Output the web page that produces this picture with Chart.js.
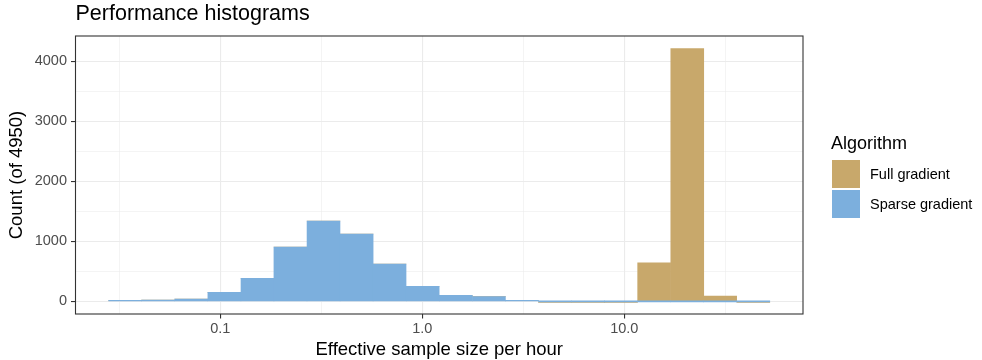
<!DOCTYPE html>
<html>
<head>
<meta charset="utf-8">
<script src="https://cdn.jsdelivr.net/npm/chart.js@4.4.1/dist/chart.umd.min.js"></script>
<style>
  html, body { margin: 0; padding: 0; background: #fff; }
  #wrap { position: relative; width: 982px; height: 360px; font-family: "Liberation Sans", Arial, Helvetica, sans-serif; }
  .lg { position: absolute; color: #000; white-space: nowrap; line-height: normal; }
  .key { position: absolute; width: 28px; height: 28px; }
</style>
</head>
<body>
<div id="wrap">
  <canvas id="hist" width="982" height="360"></canvas>
  <div id="legend"></div>
</div>
<script>
// bin centres, log10(ESS per hour); bins are ~0.164 decades wide
const binCentres = [-1.471, -1.308, -1.144, -0.980, -0.816, -0.653, -0.489, -0.325, -0.162, 0.002,
                    0.166, 0.330, 0.493, 0.657, 0.821, 0.984, 1.148, 1.312, 1.475, 1.639];
const sparseCounts = [8, 20, 40, 150, 385, 905, 1338, 1122, 622, 252,
                      100, 78, 15, 0, 0, 0, 0, 0, 0, 0];
const fullCounts = [0, 0, 0, 0, 0, 0, 0, 0, 0, 0,
                    0, 0, 0, 0, 0, 0, 640, 4210, 90, 0];

const xMajor = [-1, 0, 1];
const xLabels = ['0.1', '1.0', '10.0'];
const xMinor = [-1.5, -0.5, 0.5, 1.5];
const yMajor = [0, 1000, 2000, 3000, 4000];
const yMinor = [500, 1500, 2500, 3500];

const FULL_COL = '#c8a86b';
const SPARSE_COL = '#7cafdd';
const FONT = '"Liberation Sans", Arial, Helvetica, sans-serif';

Chart.defaults.font.family = FONT;

// panel border round the plotting area (theme_bw style)
const panelBorder = {
    id: 'panelBorder',
    afterDraw(chart) {
        const { ctx, chartArea: a } = chart;
        ctx.save();
        ctx.strokeStyle = '#333333';
        ctx.lineWidth = 1.1;
        ctx.strokeRect(a.left, a.top, a.right - a.left, a.bottom - a.top);
        ctx.restore();
    },
};

function allTicks(major, minor) {
    return [...major, ...minor].sort((a, b) => a - b).map(v => ({ value: v }));
}

const ctx = document.getElementById('hist');

new Chart(ctx, {
    type: 'bar',
    data: {
        datasets: [
            {
                label: 'Sparse gradient',
                data: binCentres.map((x, i) => ({ x, y: sparseCounts[i] })),
                backgroundColor: SPARSE_COL,
                borderWidth: 0,
                minBarLength: 1,   // empty bins still show as a thin line
                barPercentage: 1,
                categoryPercentage: 1,
            },
            {
                label: 'Full gradient',
                data: binCentres.map((x, i) => ({ x, y: fullCounts[i] })),
                backgroundColor: FULL_COL,
                borderWidth: 0,
                barPercentage: 1,
                categoryPercentage: 1,
            },
        ],
    },
    options: {
        responsive: false,
        animation: false,
        layout: { padding: { left: 0, right: 179, top: 0, bottom: 0 } },
        plugins: {
            legend: { display: false },
            tooltip: { enabled: false },
            title: {
                display: true,
                text: 'Performance histograms',
                align: 'start',
                fullSize: false,
                color: '#000',
                font: { size: 21.5, weight: 'normal' },
                padding: { top: 1.5, bottom: 8.7 },
            },
        },
        scales: {
            x: {
                type: 'linear',
                stacked: true,
                offset: false,
                min: -1.717,
                max: 1.885,
                afterBuildTicks: s => { s.ticks = allTicks(xMajor, xMinor); },
                afterFit: s => { s.height = 46; },
                ticks: {
                    autoSkip: false,
                    maxRotation: 0,
                    color: '#4d4d4d',
                    font: { size: 14.5 },
                    padding: 2,
                    callback: v => {
                        const i = xMajor.indexOf(v);
                        return i < 0 ? '' : xLabels[i];
                    },
                },
                grid: {
                    offset: false,
                    color: '#ebebeb',
                    lineWidth: c => xMajor.includes(c.tick.value) ? 1.1 : 0.55,
                    tickLength: 4.5,
                    tickWidth: 1.1,
                    tickColor: c => xMajor.includes(c.tick.value) ? '#333333' : 'rgba(0,0,0,0)',
                },
                border: { display: false },
                title: {
                    display: true,
                    text: 'Effective sample size per hour',
                    color: '#000',
                    font: { size: 18.5, lineHeight: 1.1 },
                    padding: 0,
                },
            },
            y: {
                stacked: true,
                min: -210.5,
                max: 4420.5,
                afterBuildTicks: s => { s.ticks = allTicks(yMajor, yMinor); },
                afterFit: s => { s.width = 75.5; },
                ticks: {
                    autoSkip: false,
                    color: '#4d4d4d',
                    font: { size: 14.5 },
                    padding: 4,
                    callback: v => yMajor.includes(v) ? String(v) : '',
                },
                grid: {
                    color: '#ebebeb',
                    lineWidth: c => yMajor.includes(c.tick.value) ? 1.1 : 0.55,
                    tickLength: 4.5,
                    tickWidth: 1.1,
                    tickColor: c => yMajor.includes(c.tick.value) ? '#333333' : 'rgba(0,0,0,0)',
                },
                border: { display: false },
                title: {
                    display: true,
                    text: 'Count (of 4950)',
                    color: '#000',
                    font: { size: 18.5, lineHeight: 1.1 },
                    padding: { top: 7 },
                },
            },
        },
    },
    plugins: [panelBorder],
});

// legend on the right, built from the series names and colours
const legendItems = [
    { name: 'Full gradient', colour: FULL_COL },
    { name: 'Sparse gradient', colour: SPARSE_COL },
];
const legend = document.getElementById('legend');
let html = '<div class="lg" style="left:831px; top:133px; font-size:18px;">Algorithm</div>';
legendItems.forEach((it, i) => {
    const top = 160 + i * 30;
    html += `<div class="key" style="left:832px; top:${top}px; background:${it.colour};"></div>`;
    html += `<div class="lg" style="left:870px; top:${top + 6}px; font-size:14.5px;">${it.name}</div>`;
});
legend.innerHTML = html;
</script>
</body>
</html>
